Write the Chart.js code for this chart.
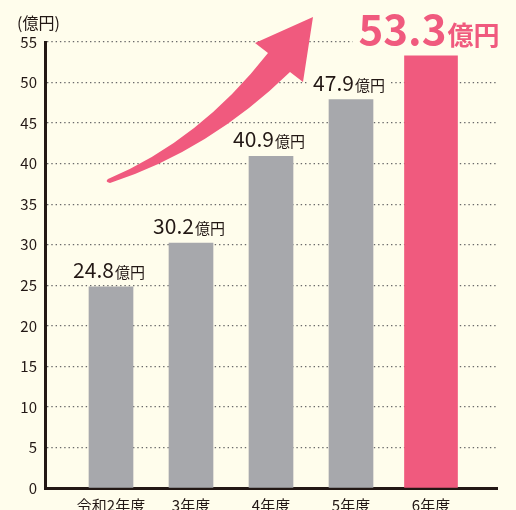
<!DOCTYPE html>
<html><head><meta charset="utf-8">
<script src="https://cdn.jsdelivr.net/npm/chart.js@4"></script>
<style>html,body{margin:0;padding:0;background:#FFFDEC;}</style>
</head><body>
<canvas id="c" width="516" height="510"></canvas>
<script>
// ---- data ----
const categories = ['令和2年度', '3年度', '4年度', '5年度', '6年度'];
const pastValues = [24.8, 30.2, 40.9, 47.9];
const latestValue = 53.3;
const unitLabel = '億円';
const axisTitle = '(億円)';
const yMin = 0, yMax = 55, yStep = 5;

// ---- styles ----
const FONT = '"Noto Sans CJK JP", "Noto Sans", sans-serif';
const BG = '#FFFDEC';
const PINK = '#F05A7E';
const GRAY = '#A7A8AC';
const INK = '#231815';

const decor = {
  id: 'decor',
  beforeDraw(chart) {
    const ctx = chart.ctx;
    ctx.save();
    ctx.fillStyle = BG;
    ctx.fillRect(0, 0, chart.width, chart.height);
    ctx.restore();
  },
  afterDatasetsDraw(chart) {
    const ctx = chart.ctx, xs = chart.scales.x, ys = chart.scales.y;
    const drawLabel = (xv, yv, numSize, unitSize, color, numWeight, unitWeight, gap) => {
      const cx = xs.getPixelForValue(xv) - 2;
      const base = ys.getPixelForValue(yv) - gap;
      const numText = yv.toFixed(1);
      ctx.save();
      ctx.font = `${numWeight} ${numSize}px ${FONT}`;
      const nw = ctx.measureText(numText).width;
      ctx.font = `${unitWeight} ${unitSize}px ${FONT}`;
      const uw = ctx.measureText(unitLabel).width;
      const total = nw + 1 + uw;
      const x0 = cx - total / 2;
      ctx.fillStyle = BG;
      ctx.fillRect(x0 - 6, base - numSize * 0.85, total + 12, numSize * 0.95);
      ctx.fillStyle = color;
      ctx.textBaseline = 'alphabetic';
      ctx.textAlign = 'left';
      ctx.font = `${numWeight} ${numSize}px ${FONT}`;
      ctx.fillText(numText, x0, base);
      ctx.font = `${unitWeight} ${unitSize}px ${FONT}`;
      ctx.fillText(unitLabel, x0 + nw + 1, base);
      ctx.restore();
    };
    pastValues.forEach((v, i) => drawLabel(i, v, 21, 15, INK, 'normal', 'normal', 9));
    drawLabel(categories.length - 1, latestValue, 42, 26, PINK, 'bold', 'bold', 10.5);

    // decorative rising arrow, anchored to the scales
    const P = (xv, yv) => [xs.getPixelForValue(xv), ys.getPixelForValue(yv)];
    ctx.save();
    ctx.fillStyle = PINK;
    ctx.beginPath();
    let p = P(-0.0125, 37.6); ctx.moveTo(p[0], p[1]);
    let c = P(1.2375, 41.68); p = P(2.2375, 51.3);
    ctx.quadraticCurveTo(c[0], c[1], p[0], p[1]);
    p = P(2.4, 50.07); ctx.lineTo(p[0], p[1]);
    p = P(2.525, 58.08); ctx.lineTo(p[0], p[1]);
    p = P(1.8, 54.88); ctx.lineTo(p[0], p[1]);
    p = P(1.9625, 53.64); ctx.lineTo(p[0], p[1]);
    c = P(1.1125, 42.9); p = P(-0.0375, 38.1);
    ctx.quadraticCurveTo(c[0], c[1], p[0], p[1]);
    c = P(-0.08, 37.75); p = P(-0.0125, 37.6);
    ctx.quadraticCurveTo(c[0], c[1], p[0], p[1]);
    ctx.closePath();
    ctx.fill();
    ctx.restore();

    // unit caption above the y axis
    ctx.save();
    ctx.fillStyle = INK;
    ctx.font = `16px ${FONT}`;
    ctx.textAlign = 'left';
    ctx.textBaseline = 'alphabetic';
    ctx.fillText(axisTitle, 17, 29);
    ctx.restore();
  }
};

new Chart(document.getElementById('c'), {
  type: 'bar',
  data: {
    datasets: [
      { data: pastValues.map((v, i) => ({ x: i, y: v })), backgroundColor: GRAY, barThickness: 44, grouped: false },
      { data: [{ x: categories.length - 1, y: latestValue }], backgroundColor: PINK, barThickness: 53, grouped: false }
    ]
  },
  options: {
    responsive: false,
    animation: false,
    devicePixelRatio: 1,
    layout: { padding: { top: 42, left: 20, right: 19, bottom: 0 } },
    plugins: { legend: { display: false }, tooltip: { enabled: false } },
    scales: {
      x: {
        type: 'linear', min: -0.825, max: 4.825, offset: false,
        afterBuildTicks: s => { s.ticks = categories.map((c, i) => ({ value: i })); },
        afterFit: s => { s.height = 22; },
        ticks: { callback: v => categories[v], font: { family: FONT, size: 15 }, color: INK, padding: 8, autoSkip: false, maxRotation: 0 },
        grid: { display: false, drawTicks: false, offset: false },
        border: { display: true, width: 3, color: INK }
      },
      y: {
        min: yMin, max: yMax,
        afterFit: s => { s.width = 25; },
        ticks: { stepSize: yStep, font: { family: FONT, size: 15 }, color: INK, padding: 8 },
        grid: { drawTicks: false, lineWidth: 1.3, color: ctx => (ctx.tick && ctx.tick.value === 0) ? 'rgba(0,0,0,0)' : '#6a6a6a' },
        border: { display: true, width: 3, color: INK, dash: [1.4, 2.9] }
      }
    }
  },
  plugins: [decor]
});
</script>
</body></html>
